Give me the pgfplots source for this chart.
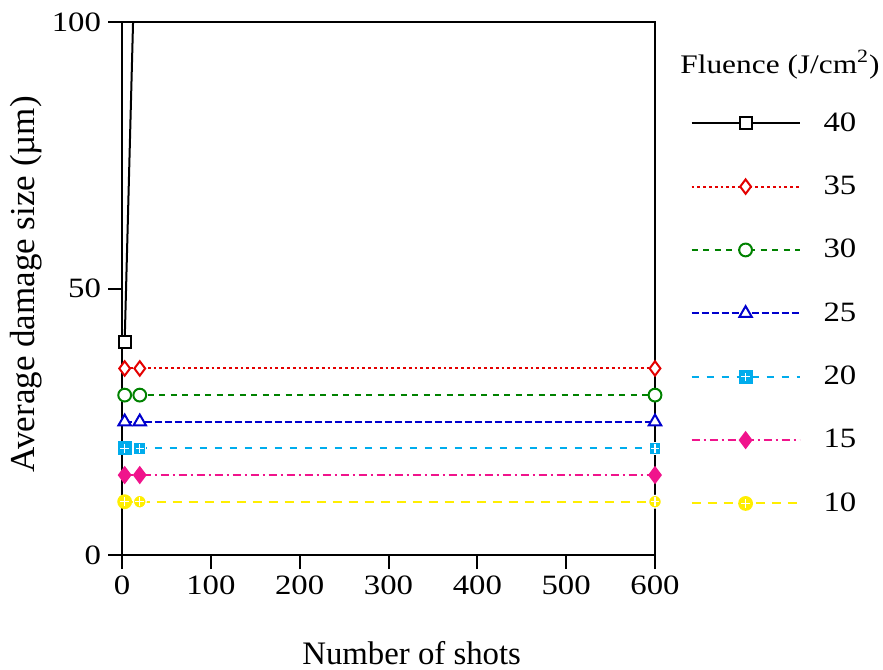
\documentclass[border=0pt]{standalone}
\usepackage{fontspec}
\setmainfont[FakeStretch=1.17]{Liberation Serif}
\newfontfamily\plainfont{Liberation Serif}
\usepackage{pgfplots}
\pgfplotsset{compat=1.18}

\definecolor{cred}{RGB}{228,0,0}
\definecolor{cgreen}{RGB}{0,130,0}
\definecolor{cblue}{RGB}{0,0,205}
\definecolor{ccyan}{RGB}{0,172,236}
\definecolor{cmag}{RGB}{240,20,140}
\definecolor{cyel}{RGB}{255,238,0}

\pgfdeclareplotmark{gridsquare}{%
  \pgfpathrectangle{\pgfqpoint{-\pgfplotmarksize}{-\pgfplotmarksize}}{\pgfqpoint{2\pgfplotmarksize}{2\pgfplotmarksize}}%
  \pgfusepathqfillstroke
  \pgfsetstrokecolor{white}%
  \pgfsetlinewidth{0.6pt}%
  \pgfpathmoveto{\pgfqpoint{-0.7\pgfplotmarksize}{0pt}}%
  \pgfpathlineto{\pgfqpoint{0.7\pgfplotmarksize}{0pt}}%
  \pgfpathmoveto{\pgfqpoint{0pt}{-0.7\pgfplotmarksize}}%
  \pgfpathlineto{\pgfqpoint{0pt}{0.7\pgfplotmarksize}}%
  \pgfusepathqstroke
}
\pgfdeclareplotmark{crosscircle}{%
  \pgfpathcircle{\pgfpointorigin}{\pgfplotmarksize}%
  \pgfusepathqfillstroke
  \pgfsetstrokecolor{white}%
  \pgfsetlinewidth{0.6pt}%
  \pgfpathmoveto{\pgfqpoint{-0.7\pgfplotmarksize}{0pt}}%
  \pgfpathlineto{\pgfqpoint{0.7\pgfplotmarksize}{0pt}}%
  \pgfpathmoveto{\pgfqpoint{0pt}{-0.7\pgfplotmarksize}}%
  \pgfpathlineto{\pgfqpoint{0pt}{0.7\pgfplotmarksize}}%
  \pgfusepathqstroke
}

\begin{document}
\begin{tikzpicture}
\begin{axis}[
  scale only axis,
  width=266.5pt, height=266.5pt,
  xmin=0, xmax=600, ymin=0, ymax=100,
  xtick={0,100,...,600}, ytick={0,50,100},
  xtick pos=left, ytick pos=left,
  tick align=outside,
  major tick length=7pt,
  tick style={black, line width=1pt},
  axis line style={line width=1pt},
  font=\fontsize{14}{17}\selectfont,
  /pgf/number format/assume math mode=true,
  xlabel={\plainfont\fontsize{16.4}{19}\selectfont Number of shots},
  ylabel={\plainfont\fontsize{17.5}{20}\selectfont Average damage size (µm)},
  every axis x label/.style={at={(axis description cs:0.5435,-0.206)}, anchor=base},
  every axis y label/.style={at={(axis description cs:-0.180,0.508)}, rotate=90, anchor=center},
  legend cell align=left,
  legend image code/.code={\draw[mark repeat=2,mark phase=2,#1] plot coordinates {(0pt,0pt) (27pt,0pt) (54pt,0pt)};},
  legend style={at={(rel axis cs:1,1)}, anchor=north west, xshift=14.6pt, yshift=-41pt,
    draw=none, fill=none, row sep=16.9pt, font=\fontsize{14}{17}\selectfont,
    /tikz/every odd column/.append style={column sep=9.5pt}},
]
\addplot[black, line width=1pt, mark=square*, mark size=3pt, mark options={solid, fill=white}]
  coordinates {(3,40) (20,148)};
\addlegendentry{40}
\addplot[cred, line width=1pt, dash pattern=on 1.4pt off 1.5pt, mark=diamond*, mark size=3.6pt, mark options={solid, fill=white}]
  coordinates {(3,35) (20,35) (600,35)};
\addlegendentry{35}
\addplot[cgreen, line width=1pt, dash pattern=on 3pt off 2.75pt, mark=*, mark size=3.2pt, mark options={solid, fill=white}]
  coordinates {(3,30) (20,30) (600,30)};
\addlegendentry{30}
\addplot[cblue, line width=1pt, dash pattern=on 3.5pt off 1.5pt, mark=triangle*, mark size=3.6pt, mark options={solid, fill=white}]
  coordinates {(3,25) (20,25) (600,25)};
\addlegendentry{25}
\addplot[ccyan, line width=1pt, dash pattern=on 3.5pt off 4pt, mark=gridsquare, mark size=3pt, mark options={solid, fill=ccyan}]
  coordinates {(3,20) (20,20) (600,20)};
\addlegendentry{20}
\addplot[cmag, line width=1pt, dash pattern=on 4pt off 2pt on 1pt off 2pt, mark=diamond*, mark size=3.8pt, mark options={solid, fill=cmag}]
  coordinates {(3,15) (20,15) (600,15)};
\addlegendentry{15}
\addplot[cyel, line width=1pt, dash pattern=on 4.5pt off 3.5pt, mark=crosscircle, mark size=3.2pt, mark options={solid, fill=cyel}]
  coordinates {(3,10) (20,10) (600,10)};
\addlegendentry{10}
\end{axis}
\node[anchor=base west, font=\fontsize{13.4}{16}\selectfont, inner sep=0pt] at ([xshift=12.5pt, yshift=-25.7pt]current axis.north east) {Fluence (J/cm\textsuperscript{2})};
\pgfresetboundingbox
\path ([xshift=-61pt,yshift=11pt]current axis.north west) rectangle ([xshift=114pt,yshift=-57pt]current axis.south east);
\end{tikzpicture}
\end{document}
